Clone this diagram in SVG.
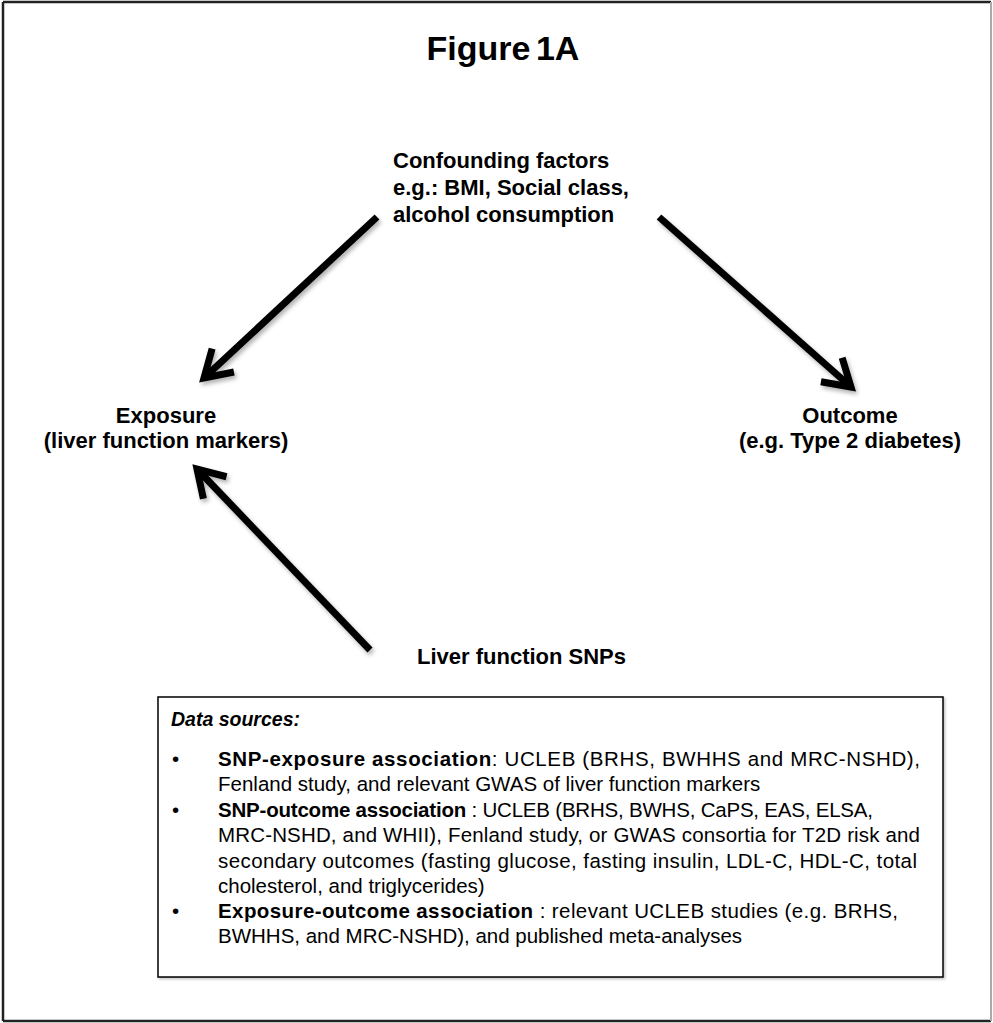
<svg xmlns="http://www.w3.org/2000/svg" width="993" height="1023" viewBox="0 0 993 1023">
<style>
text{font-family:"Liberation Sans",Arial,sans-serif;fill:#000}
.t{font-size:34px;font-weight:bold}
.n{font-size:22px;font-weight:bold}
.b{font-size:20.5px}
.bb{font-weight:bold}
.arr{stroke:#000;stroke-width:7;fill:none;marker-end:url(#ah);filter:url(#sh)}
.frame{stroke:#222;stroke-width:2.5}
</style>
<defs>
<marker id="ah" markerUnits="userSpaceOnUse" viewBox="-34 -24 40 48" markerWidth="40" markerHeight="48" refX="0" refY="0" orient="auto" overflow="visible">
<path d="M-26,-16 L0,0 L-26,16" fill="none" stroke="#000" stroke-width="7" stroke-linejoin="miter"/>
</marker>
<filter id="sh" x="-20%" y="-20%" width="140%" height="140%">
<feDropShadow dx="2" dy="3" stdDeviation="2" flood-color="#000" flood-opacity="0.3"/>
</filter>
<filter id="bs" x="-5%" y="-5%" width="110%" height="110%">
<feDropShadow dx="1.5" dy="1.5" stdDeviation="1" flood-color="#000" flood-opacity="0.25"/>
</filter>
</defs>
<rect x="0" y="0" width="993" height="1023" fill="#fff"/>
<line class="frame" x1="3" y1="2" x2="991" y2="2"/>
<line class="frame" x1="3" y1="2" x2="3" y2="1021"/>
<line class="frame" x1="3" y1="1021" x2="991" y2="1021"/>
<line x1="991" y1="2" x2="991" y2="1021" stroke="#aaa" stroke-width="2"/>
<text class="t" x="503" y="60" text-anchor="middle" word-spacing="-4">Figure 1A</text>
<g id="confounders">
<text class="n" x="393" y="168">Confounding factors</text>
<text class="n" x="393" y="195">e.g.: BMI, Social class,</text>
<text class="n" x="393" y="222">alcohol consumption</text>
</g>
<g id="exposure">
<text class="n" x="166" y="423" text-anchor="middle">Exposure</text>
<text class="n" x="166" y="448" text-anchor="middle">(liver function markers)</text>
</g>
<g id="outcome">
<text class="n" x="850" y="423" text-anchor="middle">Outcome</text>
<text class="n" x="850" y="448" text-anchor="middle">(e.g. Type 2 diabetes)</text>
</g>
<g id="snps">
<text class="n" x="417" y="664">Liver function SNPs</text>
</g>
<g id="connectors">
<line class="arr" x1="377" y1="217" x2="204" y2="378"/>
<line class="arr" x1="659" y1="217" x2="851" y2="387"/>
<line class="arr" x1="313" y1="428" x2="713" y2="428"/>
<line class="arr" x1="370" y1="650" x2="197" y2="469"/>
</g>
<g id="datasources">
<rect x="158" y="697" width="785" height="280" fill="#fff" stroke="#000" stroke-width="1.5" filter="url(#bs)"/>
<text class="bb" x="171" y="726" font-size="19.5" font-style="italic">Data sources:</text>
<text class="b" x="172" y="766">•</text>
<text class="b" x="218" y="766" textLength="702" lengthAdjust="spacing"><tspan class="bb">SNP-exposure association</tspan>: UCLEB (BRHS, BWHHS and MRC-NSHD),</text>
<text class="b" x="218" y="791">Fenland study, and relevant GWAS of liver function markers</text>
<text class="b" x="172" y="817">•</text>
<text class="b" x="218" y="817" textLength="655" lengthAdjust="spacing"><tspan class="bb">SNP-outcome association</tspan> : UCLEB (BRHS, BWHS, CaPS, EAS, ELSA,</text>
<text class="b" x="218" y="842" textLength="702" lengthAdjust="spacing">MRC-NSHD, and WHII), Fenland study, or GWAS consortia for T2D risk and</text>
<text class="b" x="218" y="868" textLength="699" lengthAdjust="spacing">secondary outcomes (fasting glucose, fasting insulin, LDL-C, HDL-C, total</text>
<text class="b" x="218" y="893">cholesterol, and triglycerides)</text>
<text class="b" x="172" y="918">•</text>
<text class="b" x="218" y="918" textLength="680" lengthAdjust="spacing"><tspan class="bb">Exposure-outcome association</tspan> : relevant UCLEB studies (e.g. BRHS,</text>
<text class="b" x="218" y="943">BWHHS, and MRC-NSHD), and published meta-analyses</text>
</g>
</svg>
